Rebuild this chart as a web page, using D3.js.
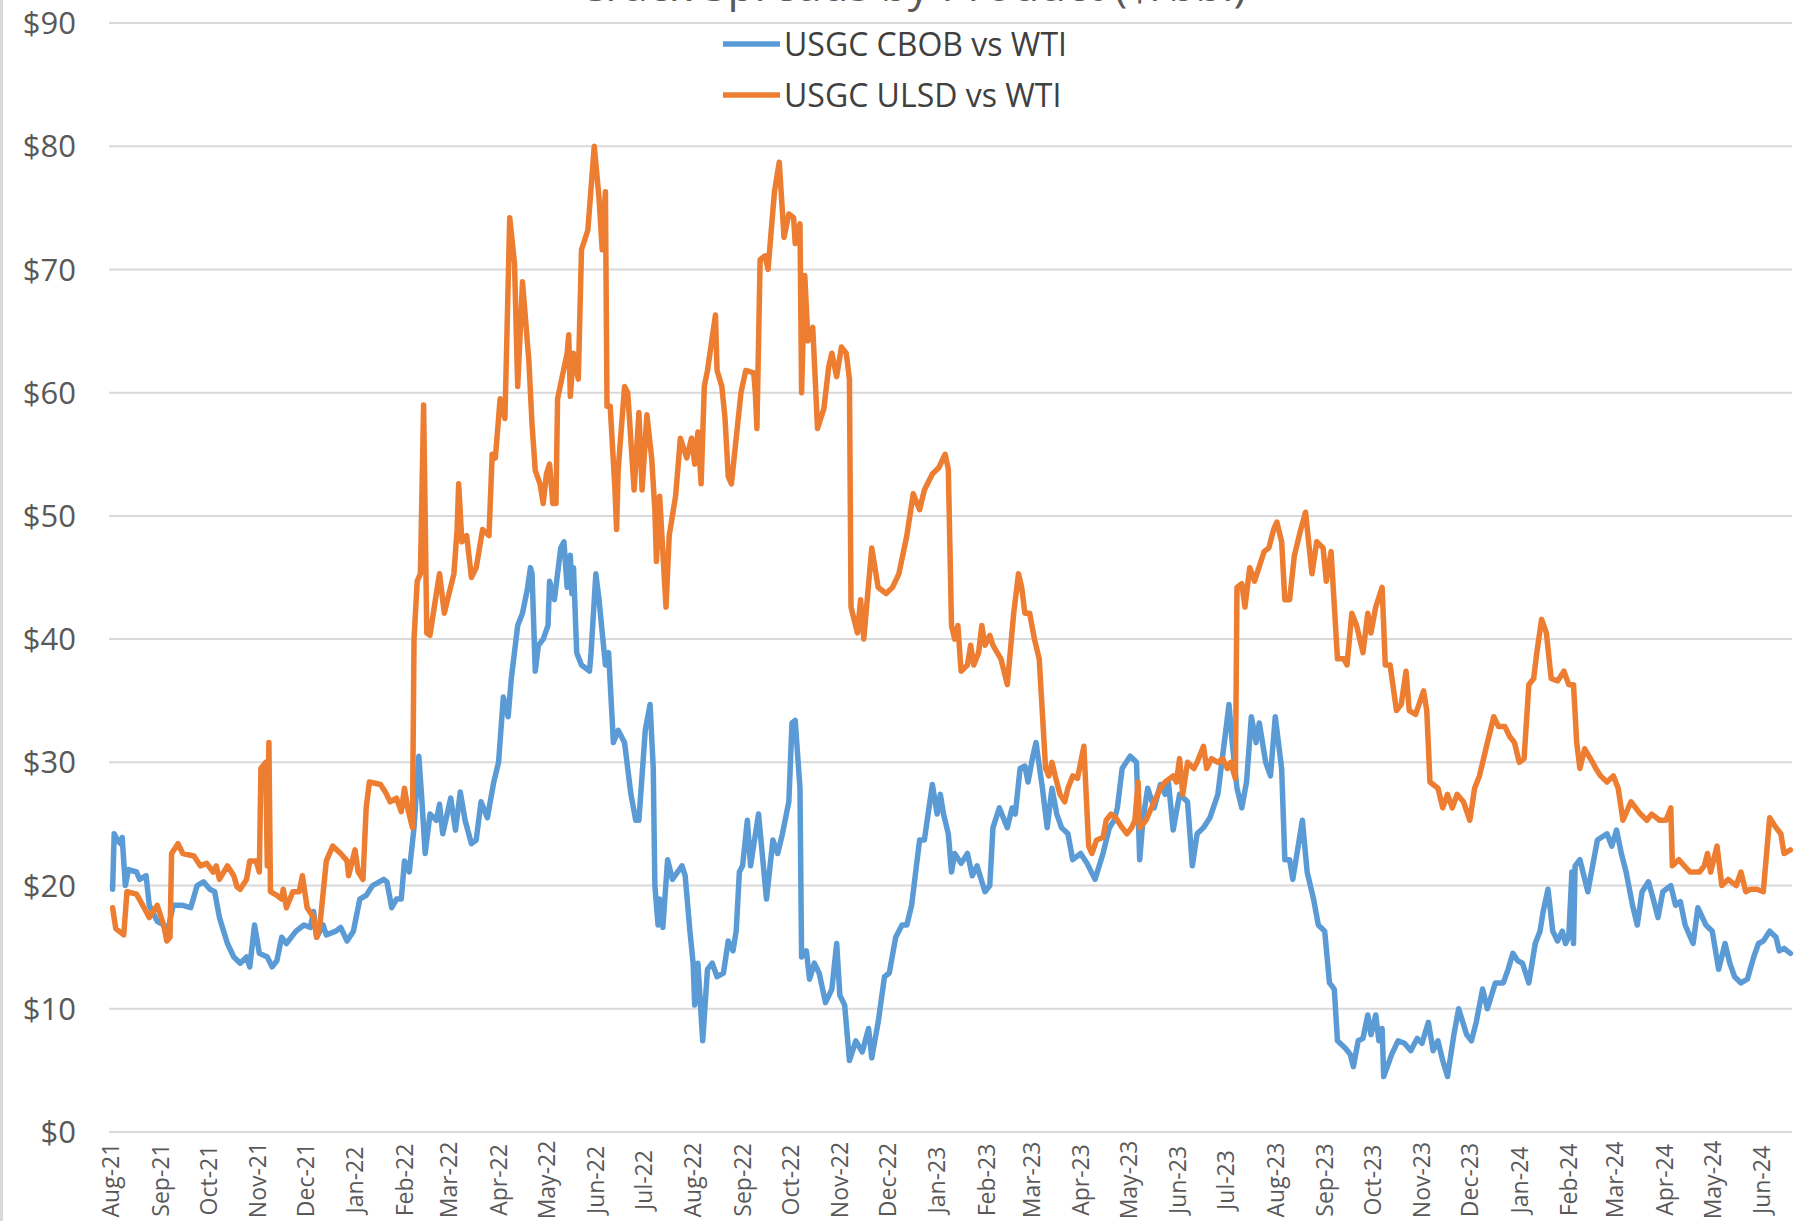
<!DOCTYPE html>
<html>
<head>
<meta charset="utf-8">
<title>USGC CBOB / ULSD vs WTI</title>
<script src="https://cdn.jsdelivr.net/npm/d3@7"></script>
<style>
  body { margin: 0; background: #fff; }
  svg text { font-family: "Open Sans", sans-serif; }
</style>
</head>
<body>
<script>
// days counted from startDate, value in $/bbl
var startDate = "2021-08-01";
var lastDay = 1054;
var monthLabels = ["Aug-21","Sep-21","Oct-21","Nov-21","Dec-21","Jan-22","Feb-22","Mar-22","Apr-22","May-22",
  "Jun-22","Jul-22","Aug-22","Sep-22","Oct-22","Nov-22","Dec-22","Jan-23","Feb-23","Mar-23","Apr-23","May-23",
  "Jun-23","Jul-23","Aug-23","Sep-23","Oct-23","Nov-23","Dec-23","Jan-24","Feb-24","Mar-24","Apr-24","May-24","Jun-24"];
var yTicks = [0, 10, 20, 30, 40, 50, 60, 70, 80, 90];
var seriesNames = ["USGC CBOB vs WTI", "USGC ULSD vs WTI"];
var seriesColors = ["#5B9BD5", "#ED7D31"];

var cbob = [[1,19.7],[2,24.2],[4,23.7],[6,23.4],[7,23.9],[9,20],[11,21.3],[16,21.1],[18,20.5],[22,20.8],[24,18.4],
  [29,17.1],[33,16.8],[35,16],[39,18.4],[45,18.4],[50,18.2],[54,20],[58,20.3],[62,19.7],[65,19.5],[68,17.4],[73,15.3],
  [77,14.2],[81,13.7],[85,14.2],[87,13.4],[90,16.8],[93,14.5],[98,14.2],[101,13.4],[104,13.9],[107,15.8],[110,15.3],
  [116,16.3],[121,16.8],[125,16.6],[127,17.9],[129,15.8],[133,16.8],[135,16],[141,16.3],[144,16.6],[148,15.5],[152,16.3],
  [156,18.9],[160,19.2],[164,20],[171,20.5],[173,20.3],[176,18.2],[179,18.9],[182,18.9],[184,22],[187,21.1],[190,24.7],
  [193,30.5],[195,26.8],[197,22.6],[200,25.8],[204,25.3],[206,26.6],[208,24.2],[213,27.1],[216,24.5],[219,27.6],[222,25.3],
  [226,23.4],[229,23.7],[232,26.8],[236,25.5],[240,28.4],[243,30],[246,35.3],[249,33.7],[251,36.8],[255,41.1],[258,42.1],
  [261,44],[263,45.8],[264,45.3],[266,37.4],[268,39.5],[271,40],[274,41.1],[275,44.7],[278,43.2],[282,47.4],[284,47.9],
  [286,44.2],[288,46.8],[289,43.7],[290,45.8],[292,38.9],[295,37.9],[300,37.4],[301,38.9],[304,45.3],[306,43.2],[310,37.9],
  [312,38.9],[315,31.6],[318,32.6],[322,31.6],[326,27.4],[329,25.3],[331,25.3],[335,32.6],[338,34.7],[340,29.5],[341,20],
  [343,16.8],[344,18.9],[346,16.6],[349,22.1],[352,20.5],[358,21.6],[360,20.8],[363,16.3],[365,13.7],[366,10.3],[368,13.7],
  [371,7.4],[374,13.2],[377,13.7],[380,12.6],[384,12.9],[387,15.5],[390,14.7],[392,16.3],[394,21.1],[396,21.6],[399,25.3],
  [401,21.6],[406,25.8],[411,18.9],[415,23.7],[418,22.6],[421,24.2],[425,26.8],[427,33.2],[429,33.4],[432,27.9],[433,14.2],
  [436,14.7],[438,12.4],[441,13.7],[444,12.9],[448,10.5],[452,11.6],[455,15.3],[457,11.1],[460,10.3],[463,5.8],[467,7.4],
  [471,6.5],[475,8.4],[477,6],[481,8.9],[485,12.6],[488,12.9],[492,15.8],[496,16.8],[499,16.8],[502,18.4],[507,23.7],
  [510,23.7],[515,28.2],[518,25.8],[520,27.4],[522,25.8],[525,24.2],[527,21.1],[529,22.6],[533,21.8],[537,22.6],[540,20.8],
  [543,21.6],[548,19.5],[551,20],[553,24.7],[557,26.3],[562,24.7],[565,26.3],[567,25.8],[570,29.5],[573,29.7],[575,28.4],
  [578,30.5],[580,31.6],[584,27.9],[587,24.7],[590,27.9],[593,25.8],[596,24.7],[600,24.2],[603,22.1],[608,22.6],[612,21.8],
  [617,20.5],[622,22.6],[626,24.7],[629,25.3],[631,26.3],[634,29.5],[639,30.5],[643,30],[645,22.1],[647,25.3],[650,27.9],
  [654,26.3],[658,28.2],[661,27.4],[663,28.4],[666,24.5],[670,27.4],[675,26.8],[678,21.6],[681,24.2],[685,24.7],[689,25.5],
  [694,27.4],[696,29.5],[699,32.6],[701,34.7],[703,31.6],[706,27.9],[709,26.3],[712,28.4],[715,33.7],[718,31.6],[720,33.2],
  [724,30],[727,28.9],[730,33.7],[734,29.5],[736,22.1],[739,22.1],[741,20.5],[747,25.3],[750,21.1],[754,18.9],[757,16.8],
  [761,16.3],[764,12.1],[767,11.6],[769,7.4],[774,6.8],[777,6.3],[779,5.3],[782,7.4],[785,7.6],[788,9.5],[790,7.9],
  [793,9.5],[795,7.4],[797,8.4],[798,4.5],[803,6.3],[807,7.4],[811,7.2],[815,6.6],[819,7.6],[822,7.2],[826,8.9],[829,6.6],
  [832,7.4],[835,5.8],[838,4.5],[842,7.9],[845,10],[850,7.9],[853,7.4],[856,8.9],[860,11.6],[863,10],[868,12.1],[873,12.1],
  [876,13.2],[879,14.5],[882,13.9],[885,13.7],[889,12.1],[891,13.7],[893,15.3],[896,16.3],[898,17.9],[901,19.7],[904,16.3],
  [907,15.5],[910,16.3],[912,15.3],[914,15.8],[916,21.1],[917,15.3],[918,21.6],[921,22.1],[926,19.5],[929,21.6],[932,23.7],
  [938,24.2],[941,23.2],[944,24.5],[947,22.6],[950,21.1],[954,18.4],[957,16.8],[960,19.5],[964,20.3],[967,18.9],[970,17.4],
  [973,19.5],[978,20],[981,18.4],[984,18.7],[987,16.8],[992,15.3],[995,18.2],[1000,16.8],[1004,16.3],[1008,13.2],[1012,15.3],
  [1015,13.7],[1018,12.6],[1022,12.1],[1026,12.4],[1030,14.2],[1033,15.3],[1036,15.5],[1040,16.3],[1044,15.8],[1046,14.7],
  [1049,14.9],[1053,14.5]];

var ulsd = [[1,18.2],[3,16.5],[5,16.3],[8,16],[10,19.5],[16,19.3],[22,17.9],[24,17.4],[29,18.4],[33,16.8],[35,15.5],
  [37,15.8],[38,22.6],[42,23.4],[45,22.6],[52,22.4],[56,21.6],[60,21.8],[64,21.1],[66,21.6],[68,20.5],[73,21.6],[77,20.8],
  [79,19.9],[81,19.7],[85,20.5],[87,22],[91,22],[93,21.1],[94,29.5],[97,30],[98,21.6],[99,31.6],[100,19.5],[104,19.2],
  [107,18.9],[108,19.7],[110,18.2],[114,19.5],[118,19.5],[120,20.8],[123,18.2],[127,17.4],[129,15.8],[131,16.8],[135,22],
  [139,23.2],[144,22.6],[148,22],[149,20.8],[153,22.9],[155,21.1],[158,20.5],[160,26.3],[162,28.4],[169,28.2],[172,27.6],
  [175,26.8],[179,27.1],[182,26],[184,27.9],[186,26.3],[189,24.7],[190,40],[192,44.7],[194,45.3],[196,59],[198,40.5],
  [200,40.3],[204,43.7],[206,45.3],[209,42.1],[211,43.2],[215,45.3],[217,48.9],[218,52.6],[220,47.9],[223,48.4],[226,45],
  [229,45.8],[233,48.9],[237,48.4],[239,55],[241,54.7],[244,59.5],[247,57.9],[250,74.2],[253,70.5],[255,60.5],[258,69],
  [262,62.6],[264,57.4],[266,53.7],[269,52.6],[271,51],[273,53.4],[275,54.2],[277,51],[279,51],[280,59.5],[286,63.2],
  [287,64.7],[288,59.7],[290,63.2],[293,61.1],[295,71.6],[299,73.2],[303,80],[306,75.8],[308,71.6],[310,76.3],[311,58.9],
  [313,58.9],[316,52.1],[317,48.9],[318,53.7],[322,60.5],[324,60],[328,52.1],[331,58.4],[333,52.1],[336,58.2],[339,54.7],
  [341,50.5],[342,46.3],[344,51.6],[348,42.6],[350,48.4],[354,51.6],[357,56.3],[361,54.7],[364,56.3],[366,54.2],[368,56.8],
  [370,52.6],[372,60.5],[374,61.8],[379,66.3],[380,61.8],[383,60.5],[385,57.9],[387,53.2],[389,52.6],[392,56.3],[395,60],
  [398,61.8],[403,61.6],[404,60],[405,57.1],[407,70.8],[410,71.1],[412,70],[414,73.2],[416,76.3],[419,78.7],[422,72.6],
  [425,74.5],[428,74.2],[429,72.1],[432,73.7],[433,60],[435,69.5],[437,64.2],[440,65.3],[443,57.1],[447,58.7],[450,62.1],
  [452,63.2],[455,61.3],[458,63.7],[461,63.2],[463,61.1],[464,42.6],[468,40.5],[470,43.2],[472,40],[477,47.4],[481,44.2],
  [486,43.7],[490,44.2],[494,45.3],[499,48.4],[503,51.8],[507,50.5],[510,52.1],[515,53.4],[519,53.9],[523,55],[525,53.8],
  [527,41.1],[529,40],[531,41.1],[533,37.4],[537,37.9],[539,39.5],[541,37.9],[544,38.9],[546,41.1],[548,39.5],[551,40.3],
  [553,39.5],[558,38.4],[562,36.3],[566,42.1],[569,45.3],[571,44.2],[573,42.1],[576,42.1],[579,40],[582,38.4],[586,29.5],
  [588,28.9],[590,30],[592,28.9],[595,27.4],[598,26.8],[600,27.9],[603,28.9],[606,28.7],[610,31.3],[613,23.2],[615,22.6],
  [618,23.7],[622,23.9],[624,25.3],[627,25.8],[630,25.5],[634,24.7],[637,24.2],[640,24.7],[642,25.3],[644,28.4],[645,24.7],
  [649,25.3],[654,26.8],[658,27.9],[661,28.4],[664,28.7],[666,28.9],[668,28.4],[670,30.3],[672,27.4],[675,30],[679,29.5],
  [681,30],[685,31.3],[687,29.5],[690,30.3],[694,30],[697,30.3],[700,29.5],[702,30],[705,28.7],[706,44.2],[709,44.5],
  [711,42.6],[714,45.8],[717,44.7],[723,47.1],[726,47.4],[729,48.9],[731,49.5],[734,47.9],[736,43.2],[739,43.2],[742,46.8],
  [746,48.9],[749,50.3],[753,45.3],[756,47.9],[760,47.4],[762,44.7],[765,47.1],[769,38.4],[773,38.4],[775,37.9],[778,42.1],
  [781,41.1],[785,38.9],[788,42.1],[790,40.5],[793,42.6],[797,44.2],[799,37.9],[802,37.9],[806,34.2],[809,34.7],[812,37.4],
  [814,34.2],[818,33.9],[823,35.8],[825,34.2],[827,28.4],[832,27.9],[835,26.3],[838,27.4],[841,26.3],[844,27.4],[848,26.8],
  [852,25.3],[855,27.9],[858,28.9],[861,30.5],[863,31.6],[867,33.7],[870,32.9],[874,32.9],[877,32.1],[880,31.6],[883,30],
  [886,30.3],[889,36.3],[892,36.8],[894,38.9],[897,41.6],[900,40.5],[903,36.8],[907,36.6],[911,37.4],[914,36.3],[917,36.3],
  [919,31.6],[921,29.5],[924,31.1],[929,30],[931,29.5],[934,28.9],[938,28.4],[942,28.9],[945,27.9],[948,25.3],[953,26.8],
  [959,25.8],[963,25.3],[966,25.8],[971,25.3],[975,25.3],[978,26.3],[979,21.6],[983,22.1],[990,21.1],[996,21.1],[999,21.6],
  [1001,22.6],[1003,21.1],[1007,23.2],[1010,20],[1014,20.5],[1019,20],[1022,21.1],[1025,19.5],[1028,19.7],[1032,19.7],
  [1036,19.5],[1040,25.5],[1044,24.7],[1047,24.2],[1049,22.6],[1053,22.9]];

var W = 1799, H = 1221;
var svg = d3.select("body").append("svg").attr("width", W).attr("height", H);
svg.append("rect").attr("width", W).attr("height", H).attr("fill", "#fff");
svg.append("rect").attr("x", 0).attr("y", 0).attr("width", 3).attr("height", H).attr("fill", "#d9d9d9");

var start = d3.timeParse("%Y-%m-%d")(startDate);
var x = d3.scaleTime().domain([start, d3.timeDay.offset(start, lastDay)]).range([111, 1792]);
var y = d3.scaleLinear().domain([0, 90]).range([1132, 23]);

// title sits above the top edge, only its lowest strokes show
svg.append("text").attr("x", 912).attr("y", 1).attr("text-anchor", "middle")
  .attr("font-size", 44).attr("fill", "#595959")
  .text("Crack Spreads by Product ($/bbl)");

// gridlines + y labels
svg.append("g").selectAll("line").data(yTicks).enter().append("line")
  .attr("x1", 109).attr("x2", 1792)
  .attr("y1", function(d){ return y(d); }).attr("y2", function(d){ return y(d); })
  .attr("stroke", "#d9d9d9").attr("stroke-width", 2);
svg.append("g").selectAll("text").data(yTicks).enter().append("text")
  .attr("x", 76).attr("y", function(d){ return y(d); }).attr("dy", "0.36em")
  .attr("text-anchor", "end").attr("font-size", 31).attr("fill", "#595959")
  .text(function(d){ return "$" + d; });

// month labels, rotated
var parseMonth = d3.timeParse("%b-%y");
svg.append("g").selectAll("text").data(monthLabels).enter().append("text")
  .attr("transform", function(d){ return "translate(" + x(parseMonth(d)) + ",1180) rotate(-90)"; })
  .attr("dy", "0.36em").attr("text-anchor", "middle")
  .attr("font-size", 23).attr("fill", "#595959")
  .text(function(d){ return d; });

// lines
var line = d3.line()
  .x(function(d){ return x(d3.timeDay.offset(start, d[0])); })
  .y(function(d){ return y(d[1]); });
[cbob, ulsd].forEach(function(s, i){
  svg.append("path").datum(s).attr("d", line)
    .attr("fill", "none").attr("stroke", seriesColors[i]).attr("stroke-width", 5.5)
    .attr("stroke-linejoin", "round").attr("stroke-linecap", "round");
});

// legend
var lg = svg.append("g").selectAll("g").data(seriesNames).enter().append("g")
  .attr("transform", function(d, i){ return "translate(723," + (44 + i * 51) + ")"; });
lg.append("line").attr("x1", 0).attr("x2", 57).attr("y1", 0).attr("y2", 0)
  .attr("stroke", function(d, i){ return seriesColors[i]; }).attr("stroke-width", 5.5);
lg.append("text").attr("x", 61).attr("dy", "0.36em").attr("font-size", 32).attr("fill", "#404040")
  .text(function(d){ return d; });
</script>
</body>
</html>
